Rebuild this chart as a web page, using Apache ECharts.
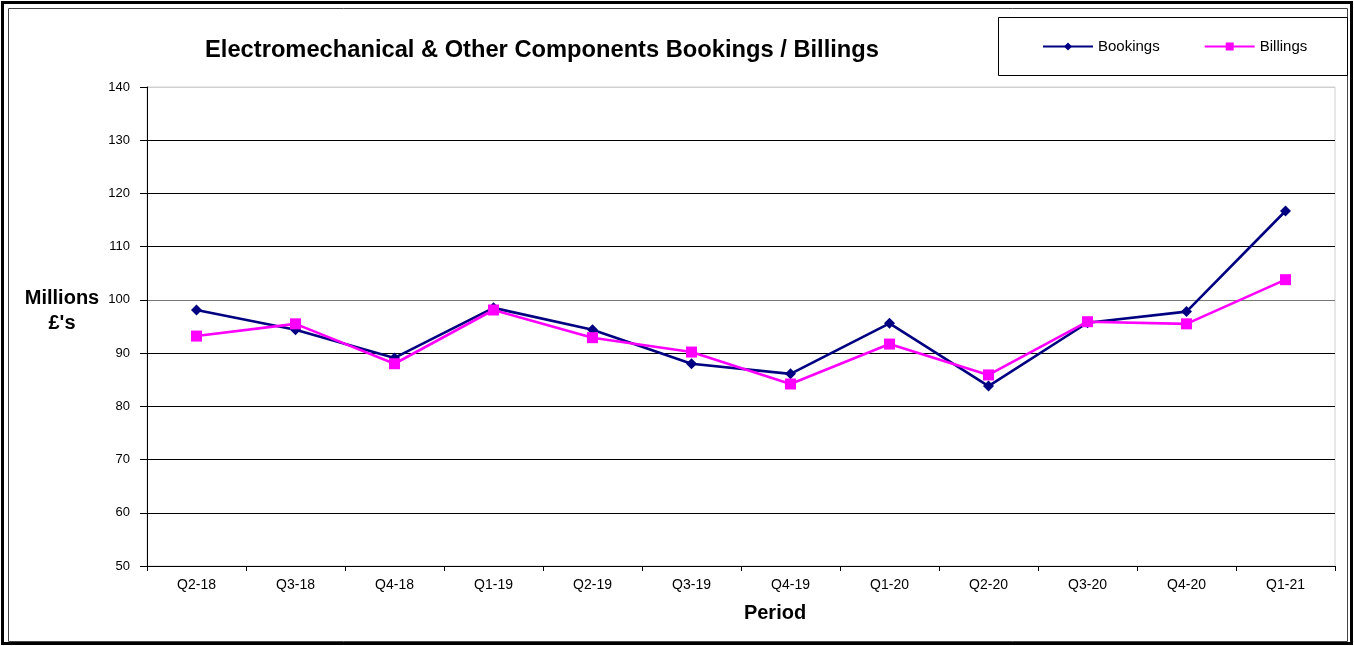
<!DOCTYPE html>
<html>
<head>
<meta charset="utf-8">
<script src="https://cdn.jsdelivr.net/npm/echarts@6/dist/echarts.min.js"></script>
<style>
  html, body { margin: 0; padding: 0; background: #fff; }
  #chart { width: 1354px; height: 646px; }
</style>
</head>
<body>
<div id="chart"></div>
<script>
// 数据
const periods = ["Q2-18", "Q3-18", "Q4-18", "Q1-19", "Q2-19", "Q3-19", "Q4-19", "Q1-20", "Q2-20", "Q3-20", "Q4-20", "Q1-21"];
const bookings = [98.1, 94.4, 89.1, 98.5, 94.4, 88.0, 86.1, 95.6, 83.8, 95.7, 97.8, 116.7];
const billings = [93.2, 95.5, 88.0, 98.1, 92.9, 90.2, 84.2, 91.7, 85.9, 95.9, 95.5, 103.8];

const font = "'Liberation Sans', Arial, sans-serif";
const myChart = echarts.init(document.getElementById("chart"));

const option = {
  animation: false,
  backgroundColor: "#fff",
  textStyle: { fontFamily: font },
  title: {
    text: "Electromechanical & Other Components Bookings / Billings",
    left: 537,
    top: 33,
    textAlign: "center",
    textStyle: { fontFamily: font, fontSize: 23.7, fontWeight: "bold", color: "#000" },
  },
  legend: {
    left: 1037,
    top: 34,
    itemWidth: 50,
    itemHeight: 10,
    itemGap: 44,
    textStyle: { fontFamily: font, fontSize: 15, color: "#000" },
    data: ["Bookings", "Billings"],
  },
  grid: {
    left: 147,
    right: 19,
    top: 87,
    bottom: 80,
    show: true,
    borderColor: "#d0d0d0",
    borderWidth: 1,
  },
  xAxis: {
    type: "category",
    data: periods,
    boundaryGap: true,
    axisLine: { lineStyle: { color: "#000", width: 1 } },
    axisTick: { show: true, length: 5, inside: false, lineStyle: { color: "#000" } },
    axisLabel: { color: "#000", fontSize: 14, fontFamily: font, margin: 12 },
  },
  yAxis: {
    type: "value",
    min: 50,
    max: 140,
    interval: 10,
    axisLine: { show: true, lineStyle: { color: "#000", width: 1 } },
    axisTick: { show: true, length: 7, lineStyle: { color: "#000" } },
    axisLabel: { color: "#000", fontSize: 13, fontFamily: font, margin: 17 },
    splitLine: {
      show: true,
      lineStyle: {
        color: ["#000", "#000", "#000", "#000", "#000", "#777", "#000", "#000", "#000", "#d0d0d0"],
        width: 1,
      },
    },
  },
  series: [
    {
      name: "Bookings",
      type: "line",
      data: bookings,
      symbol: "diamond",
      symbolSize: 11,
      itemStyle: { color: "#000080" },
      lineStyle: { color: "#000080", width: 2.6 },
      z: 2,
    },
    {
      name: "Billings",
      type: "line",
      data: billings,
      symbol: "rect",
      symbolSize: 11,
      itemStyle: { color: "#ff00ff" },
      lineStyle: { color: "#ff00ff", width: 2.6 },
      z: 3,
    },
  ],
  graphic: [
    // 外框
    { type: "rect", shape: { x: 2.5, y: 2.5, width: 1349, height: 641 }, style: { fill: null, stroke: "#000", lineWidth: 3 }, z: 100 },
    { type: "rect", shape: { x: 8.5, y: 8.5, width: 1339, height: 633 }, style: { fill: null, stroke: "#444", lineWidth: 1 }, z: 100 },
    // 图例框
    { type: "rect", shape: { x: 998.5, y: 17.5, width: 349, height: 58 }, style: { fill: null, stroke: "#000", lineWidth: 1 }, z: 100 },
    {
      type: "text",
      x: 62,
      y: 298,
      style: {
        text: "Millions",
        fill: "#000",
        font: "bold 20px " + font,
        align: "center",
        verticalAlign: "middle",
      },
    },
    {
      type: "text",
      x: 62,
      y: 323,
      style: {
        text: "£'s",
        fill: "#000",
        font: "bold 20px " + font,
        align: "center",
        verticalAlign: "middle",
      },
    },
    {
      type: "text",
      x: 775,
      y: 613,
      style: {
        text: "Period",
        fill: "#000",
        font: "bold 20px " + font,
        align: "center",
        verticalAlign: "middle",
      },
    },
  ],
};

myChart.setOption(option);
</script>
</body>
</html>
